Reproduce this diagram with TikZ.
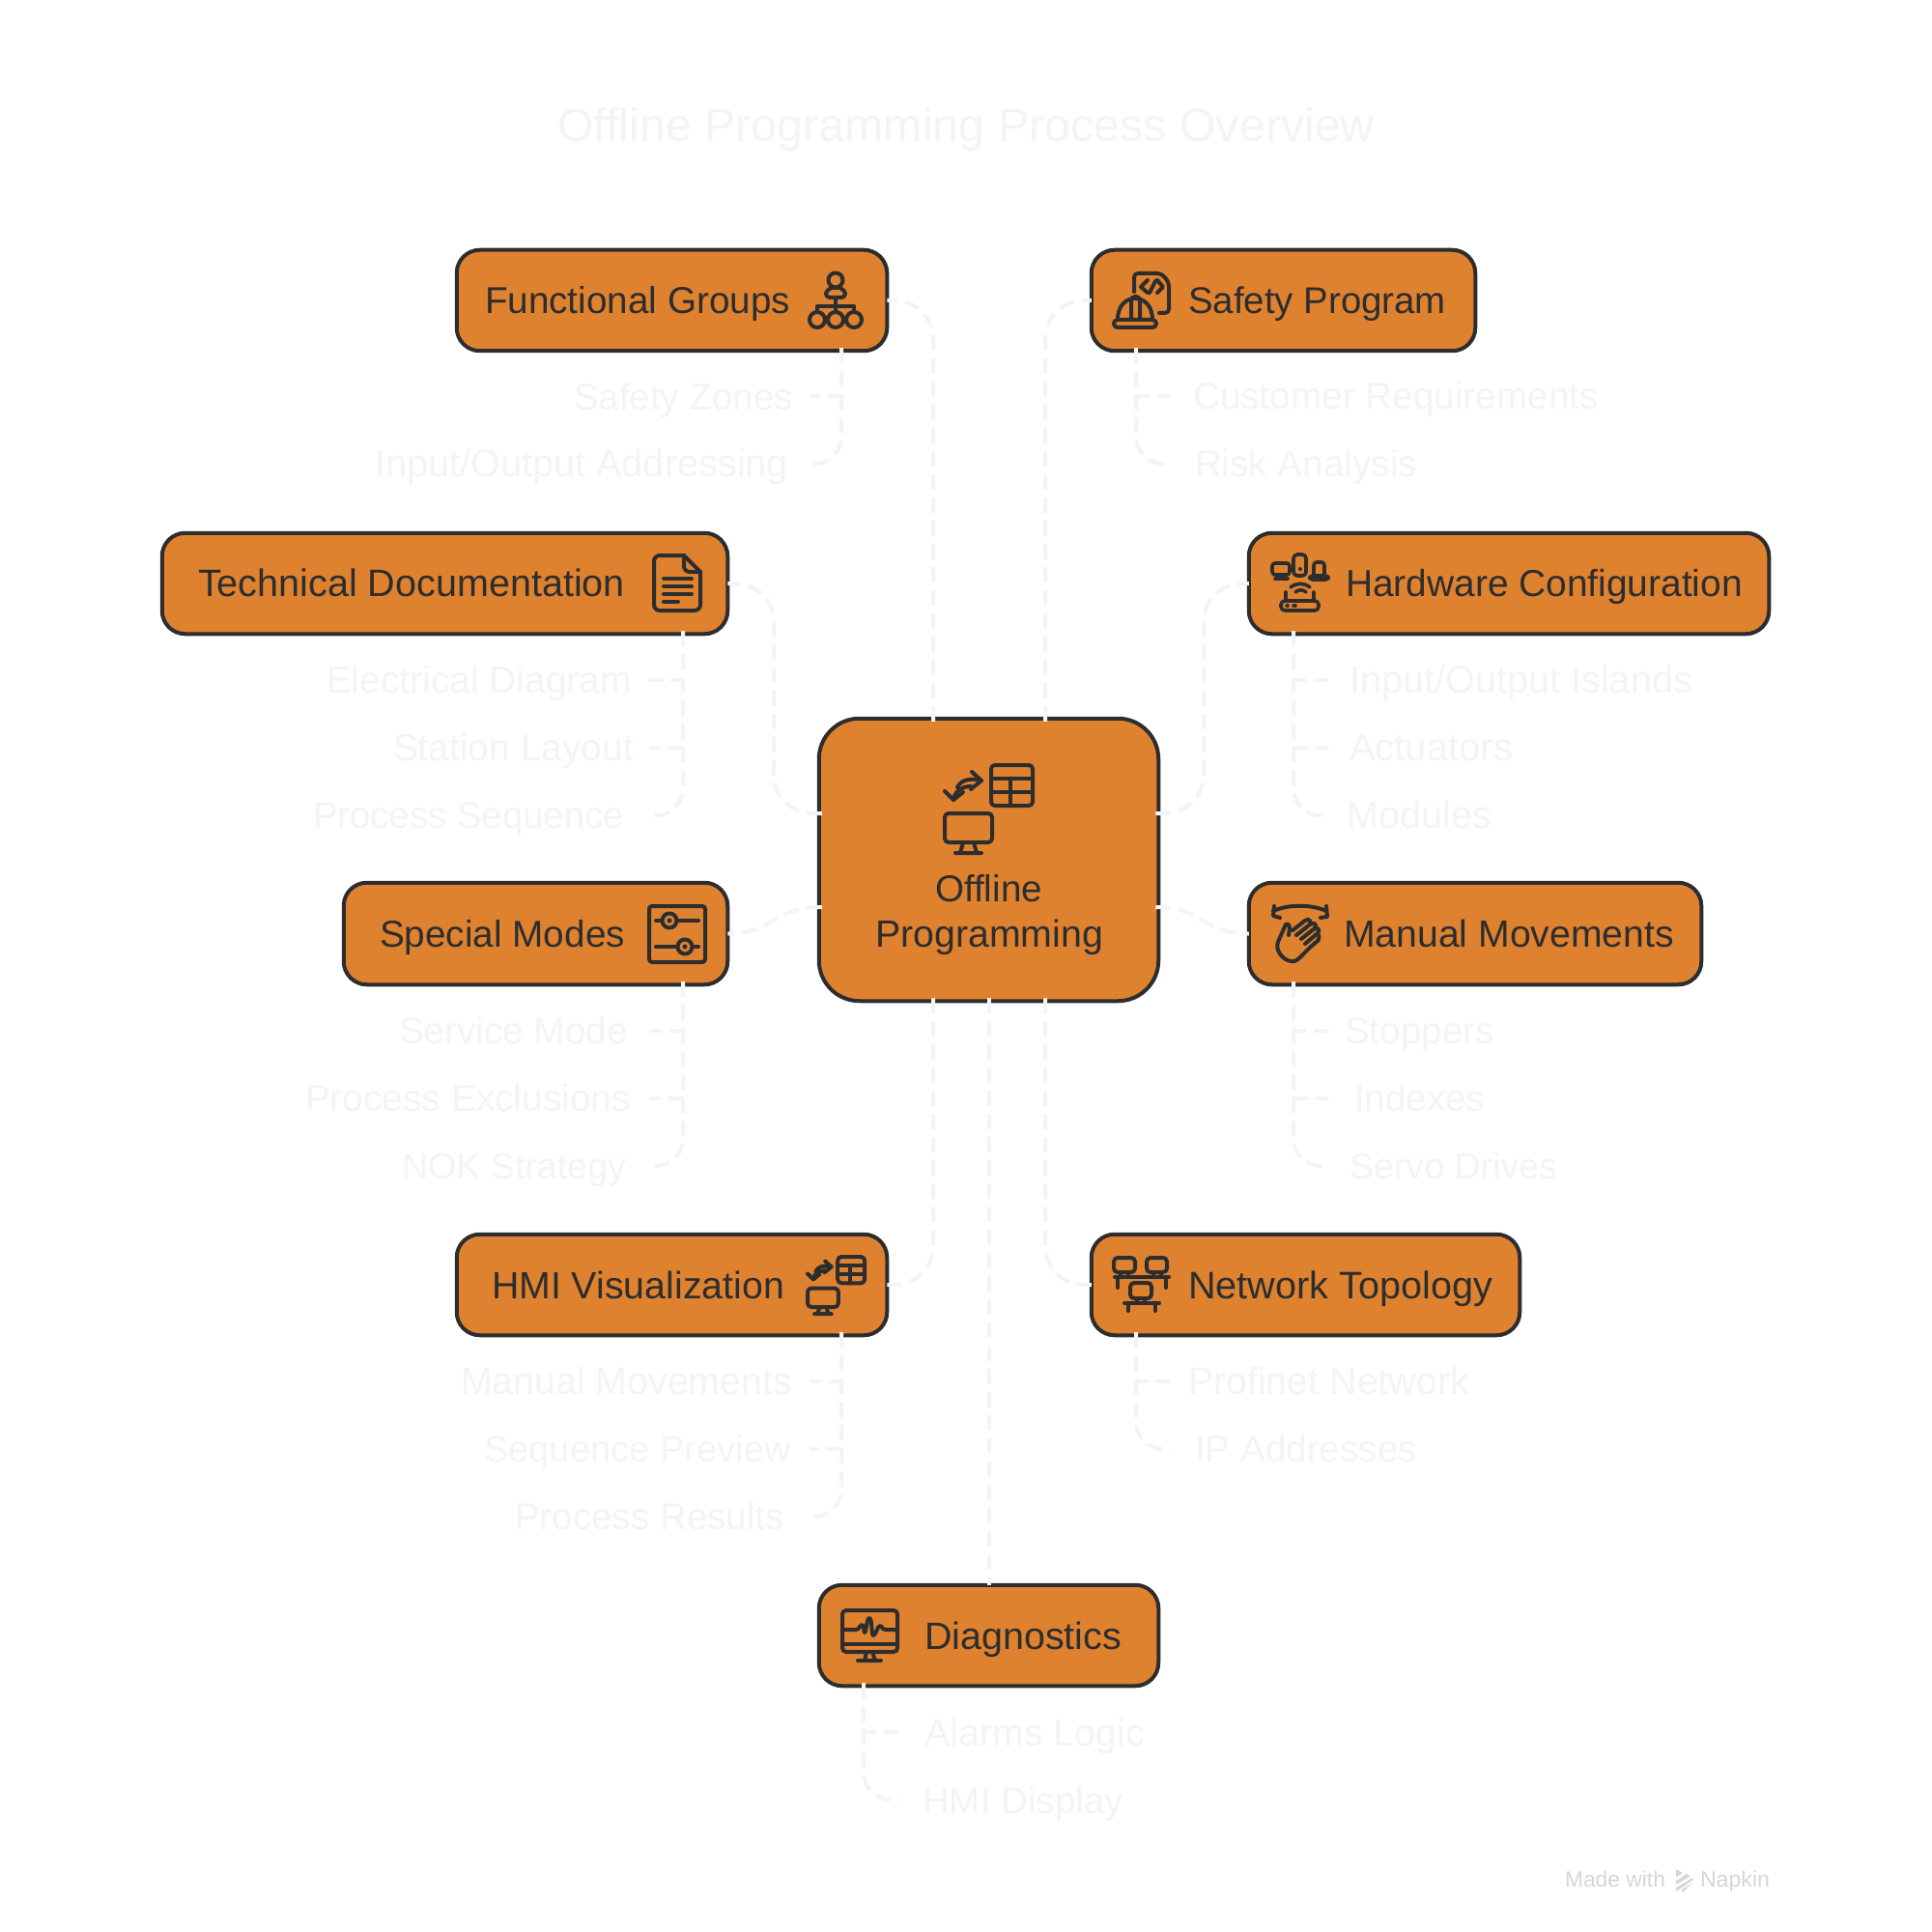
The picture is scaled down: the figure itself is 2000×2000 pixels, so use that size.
\documentclass[tikz,border=0pt]{standalone}
\usepackage{fontspec}
\setmainfont{Liberation Sans}
\definecolor{boxfill}{HTML}{DF8230}
\definecolor{inkc}{HTML}{2D2D2D}
\definecolor{faint}{HTML}{F3F4F6}
\definecolor{markc}{HTML}{D6D6D6}
\tikzset{
  boxnode/.style={draw=inkc,fill=boxfill,line width=2pt,rounded corners=12pt,outer sep=0pt,inner sep=0pt},
  centernode/.style={boxnode,rounded corners=21pt},
  dark/.style={text=inkc,inner sep=0pt,outer sep=0pt,anchor=base west,font=\fontsize{20}{24}\selectfont},
  pale/.style={dark,text=faint},
  conn/.style={draw=faint,line width=2pt,dash pattern=on 8pt off 4pt,shorten <=-1.5pt},
  icon/.style={draw=inkc,line width=2pt,line cap=round,line join=round},
  thin icon/.style={icon,line width=1.8pt},
  markt/.style={dark,text=markc}
}
\newcommand\myboxn[6][boxnode]{\node[#1,minimum width={(#5-#3-1.5)*0.5pt},minimum height={(#6-#4-1.5)*0.5pt}] (#2) at ({(#3+#5)/2},{(#4+#6)/2}) {};}
% name, style, x1, x2, baseline, text
\newcommand\mytxt[6]{\pgfmathsetmacro\mywdth{(#4-#3)/2}\node[#2] (#1) at (#3,#5) {\resizebox{\mywdth pt}{!}{#6}};}
\newcommand\swapicon[3]{%
\begin{scope}[shift={(#1,#2)},x=#3*0.5pt,y=-#3*0.5pt]
 \draw[icon,rounded corners=2pt] (48,0) rectangle (91,42);
 \draw[icon] (48,14) -- (91,14) (48,28) -- (91,28) (68,14) -- (68,42);
 \draw[icon] (13,23) .. controls (17,15) and (27,13) .. (38,16);
 \draw[icon] (28,7) -- (38,16) -- (27,25);
 \draw[icon] (27,22) .. controls (17,22) and (10,28) .. (9,36);
 \draw[icon] (0,27) -- (9,36) -- (19,28);
 \draw[icon,rounded corners=2pt] (0,50) rectangle (49,80);
 \draw[icon] (19,80) -- (16,91) (30,80) -- (33,91) (11,91) -- (38,91);
\end{scope}}
\begin{document}
\begin{tikzpicture}[x=0.5pt,y=-0.5pt]
\useasboundingbox (0,0) rectangle (2000,2000);
\fill[white] (0,0) rectangle (2000,2000);

% title
\mytxt{title}{pale,font=\fontsize{24}{28}\selectfont}{577}{1423}{147}{Offline Programming Process Overview}

% boxes
\myboxn{fg}{472}{258}{919}{364}
\myboxn{sp}{1129}{258}{1528}{364}
\myboxn{td}{167}{551}{754}{657}
\myboxn{hc}{1292}{551}{1832}{657}
\myboxn{sm}{355}{913}{754}{1020}
\myboxn{mm}{1292}{913}{1762}{1020}
\myboxn{hv}{472}{1277}{919}{1383}
\myboxn{nt}{1129}{1277}{1574}{1383}
\myboxn{dg}{847}{1640}{1200}{1746}
\myboxn[centernode]{op}{847}{743}{1200}{1037}

% box texts
\mytxt{fg-text}{dark}{502}{818}{325}{Functional Groups}
\mytxt{sp-text}{dark}{1230}{1497}{325}{Safety Program}
\mytxt{td-text}{dark}{205}{647}{617}{Technical Documentation}
\mytxt{hc-text}{dark}{1393}{1804}{617}{Hardware Configuration}
\mytxt{sm-text}{dark}{393}{647}{980}{Special Modes}
\mytxt{mm-text}{dark}{1391}{1733}{980}{Manual Movements}
\mytxt{hv-text}{dark}{509}{812}{1344}{HMI Visualization}
\mytxt{nt-text}{dark}{1230}{1545}{1344}{Network Topology}
\mytxt{dg-text}{dark}{957}{1161}{1707}{Diagnostics}
\mytxt{op-text1}{dark}{968}{1079}{933}{Offline}
\mytxt{op-text2}{dark}{906}{1142}{980}{Programming}

% child labels
\mytxt{l1}{pale}{594}{821}{425}{Safety Zones}
\mytxt{l2}{pale}{388}{816}{494}{Input/Output Addressing}
\mytxt{l3}{pale}{1235}{1655}{424}{Customer Requirements}
\mytxt{l4}{pale}{1237}{1467}{494}{Risk Analysis}
\mytxt{l5}{pale}{338}{654}{717}{Electrical Diagram}
\mytxt{l6}{pale}{407}{656}{787}{Station Layout}
\mytxt{l7}{pale}{324}{646}{857}{Process Sequence}
\mytxt{l8}{pale}{1397}{1752}{717}{Input/Output Islands}
\mytxt{l9}{pale}{1397}{1566}{787}{Actuators}
\mytxt{l10}{pale}{1394}{1544}{857}{Modules}
\mytxt{l11}{pale}{413}{650}{1080}{Service Mode}
\mytxt{l12}{pale}{316}{653}{1150}{Process Exclusions}
\mytxt{l13}{pale}{416}{648}{1220}{NOK Strategy}
\mytxt{l14}{pale}{1392}{1547}{1080}{Stoppers}
\mytxt{l15}{pale}{1402}{1537}{1150}{Indexes}
\mytxt{l16}{pale}{1397}{1612}{1220}{Servo Drives}
\mytxt{l17}{pale}{477}{820}{1443}{Manual Movements}
\mytxt{l18}{pale}{501}{819}{1513}{Sequence Preview}
\mytxt{l19}{pale}{533}{812}{1583}{Process Results}
\mytxt{l20}{pale}{1230}{1521}{1443}{Profinet Network}
\mytxt{l21}{pale}{1237}{1467}{1513}{IP Addresses}
\mytxt{l22}{pale}{957}{1185}{1807}{Alarms Logic}
\mytxt{l23}{pale}{955}{1163}{1877}{HMI Display}

% connector ends on the children
\coordinate (t1) at (838,410);
\coordinate (t2) at (836,480);
\coordinate (t3) at (1212,410);
\coordinate (t4) at (1212,480);
\coordinate (t5) at (672,704);
\coordinate (t6) at (672,774);
\coordinate (t7) at (672,844);
\coordinate (t8) at (1375,704);
\coordinate (t9) at (1375,774);
\coordinate (t10) at (1375,844);
\coordinate (t11) at (672,1067);
\coordinate (t12) at (672,1137);
\coordinate (t13) at (672,1207);
\coordinate (t14) at (1375,1067);
\coordinate (t15) at (1375,1137);
\coordinate (t16) at (1375,1207);
\coordinate (t17) at (838,1430);
\coordinate (t18) at (838,1500);
\coordinate (t19) at (836,1570);
\coordinate (t20) at (1212,1430);
\coordinate (t21) at (1212,1500);
\coordinate (t22) at (930,1793);
\coordinate (t23) at (930,1863);

% ports
\coordinate (fg-p) at (871,0 |- fg.south);
\coordinate (sp-p) at (1176,0 |- sp.south);
\coordinate (td-p) at (707,0 |- td.south);
\coordinate (hc-p) at (1339,0 |- hc.south);
\coordinate (sm-p) at (707,0 |- sm.south);
\coordinate (mm-p) at (1339,0 |- mm.south);
\coordinate (hv-p) at (871,0 |- hv.south);
\coordinate (nt-p) at (1176,0 |- nt.south);
\coordinate (dg-p) at (894,0 |- dg.south);
\coordinate (op-nl) at (966,0 |- op.north);
\coordinate (op-nr) at (1082,0 |- op.north);
\coordinate (op-sl) at (966,0 |- op.south);
\coordinate (op-sr) at (1082,0 |- op.south);
\coordinate (op-wu) at (op.west |- 0,842);
\coordinate (op-eu) at (op.east |- 0,842);
\coordinate (op-wd) at (op.west |- 0,939);
\coordinate (op-ed) at (op.east |- 0,939);

% centre to groups
\draw[conn,rounded corners=20pt] (op-nl) |- (fg.east);
\draw[conn,rounded corners=20pt] (op-nr) |- (sp.west);
\draw[conn,rounded corners=20pt] (op-sl) |- (hv.east);
\draw[conn,rounded corners=20pt] (op-sr) |- (nt.west);
\draw[conn] (op.south) -- (dg.north);
\draw[conn,rounded corners=20pt] (op-wu) -| (801,604) -- (td.east);
\draw[conn,rounded corners=20pt] (op-eu) -| (1246,604) -- (hc.west);
\draw[conn] (op-wd) .. controls (800,939) and (800,967) .. (sm.east);
\draw[conn] (op-ed) .. controls (1246,939) and (1246,967) .. (mm.west);

% groups to children
\draw[conn] (fg-p) |- (t1);
\draw[conn,rounded corners=14pt] (fg-p) |- (t2);
\draw[conn] (sp-p) |- (t3);
\draw[conn,rounded corners=14pt] (sp-p) |- (t4);
\draw[conn] (td-p) |- (t5);
\draw[conn] (td-p) |- (t6);
\draw[conn,rounded corners=14pt] (td-p) |- (t7);
\draw[conn] (hc-p) |- (t8);
\draw[conn] (hc-p) |- (t9);
\draw[conn,rounded corners=14pt] (hc-p) |- (t10);
\draw[conn] (sm-p) |- (t11);
\draw[conn] (sm-p) |- (t12);
\draw[conn,rounded corners=14pt] (sm-p) |- (t13);
\draw[conn] (mm-p) |- (t14);
\draw[conn] (mm-p) |- (t15);
\draw[conn,rounded corners=14pt] (mm-p) |- (t16);
\draw[conn] (hv-p) |- (t17);
\draw[conn] (hv-p) |- (t18);
\draw[conn,rounded corners=14pt] (hv-p) |- (t19);
\draw[conn] (nt-p) |- (t20);
\draw[conn,rounded corners=14pt] (nt-p) |- (t21);
\draw[conn] (dg-p) |- (t22);
\draw[conn,rounded corners=14pt] (dg-p) |- (t23);

% icon: centre and HMI
\swapicon{978}{792}{1}
\swapicon{836}{1301}{0.65}

% icon: functional groups
\draw[icon] (865,290) circle[radius=7.5];
\draw[icon,rounded corners=2pt] (855,308) .. controls (855,301) and (860,298) .. (865,298) .. controls (870,298) and (875,301) .. (875,308) -- cycle;
\draw[icon] (865,308) -- (865,323) (846,323) -- (846,317) -- (884,317) -- (884,323);
\draw[icon] (846,331) circle[radius=8] (865,331) circle[radius=8] (884,331) circle[radius=8];

% icon: safety program
\draw[icon,rounded corners=2pt] (1174,302) -- (1174,283) -- (1202,283) -- (1210,292) -- (1210,324) -- (1200,324);
\draw[icon] (1188,290) -- (1181,297) -- (1188,303) (1196,291) -- (1190,303) (1198,290) -- (1204,297) -- (1198,303);
\draw[icon,rounded corners=2pt] (1153,331) rectangle (1197,339);
\draw[icon] (1157,331) .. controls (1157,316) and (1166,309) .. (1175,309) .. controls (1184,309) and (1193,316) .. (1193,331);
\draw[icon,rounded corners=2pt] (1171,331) -- (1171,307) -- (1180,307) -- (1180,331);

% icon: technical documentation
\draw[icon,rounded corners=3pt] (708,575) -- (677,575) -- (677,632) -- (725,632) -- (725,592);
\draw[icon] (708,575) -- (725,592);
\draw[icon,rounded corners=3pt] (708,575) -- (708,592) -- (725,592);
\draw[icon] (687,599) -- (716,599) (687,607) -- (716,607) (687,615) -- (716,615) (687,623) -- (702,623);

% icon: hardware configuration
\draw[thin icon,rounded corners=1.5pt] (1317,583) rectangle (1335,595);
\draw[thin icon] (1326,595) -- (1326,599) (1320,599) -- (1333,599);
\draw[thin icon,rounded corners=2pt] (1339,574) rectangle (1352,596);
\fill[inkc] (1346,589) circle[radius=2];
\draw[thin icon,rounded corners=1.5pt] (1360,596) -- (1360,582) -- (1371,582) -- (1371,596);
\draw[thin icon,rounded corners=1.5pt] (1356,600) rectangle (1375,596);
\draw[thin icon] (1336,608) .. controls (1342,603) and (1350,603) .. (1356,608);
\draw[thin icon] (1341,613) .. controls (1344,610) and (1349,610) .. (1352,613);
\draw[thin icon,rounded corners=2pt] (1326,622) rectangle (1365,632);
\draw[thin icon] (1331,622) -- (1331,613) (1360,622) -- (1360,613);
\draw[thin icon] (1332,627) -- (1333,627) (1339,627) -- (1341,627);

% icon: special modes
\draw[icon,rounded corners=1.5pt] (672,938) rectangle (730,996);
\draw[icon] (679,953) -- (723,953) (679,980) -- (723,980);
\draw[icon,fill=boxfill] (693,953) circle[radius=7.5] (709,980) circle[radius=7.5];
\fill[inkc] (693,953) circle[radius=2.5] (709,980) circle[radius=2.5];

% icon: manual movements
\draw[icon] (1318,943) .. controls (1334,936) and (1357,936) .. (1373,943);
\draw[icon] (1319,938) -- (1318,948) -- (1325,950) (1373,938) -- (1374,949) -- (1367,950);
\draw[icon] (1334,968) -- (1335,961) .. controls (1335,956) and (1331,955) .. (1330,959) -- (1323,975) .. controls (1319,985) and (1331,997) .. (1340,995) .. controls (1346,993) and (1350,985) .. (1364,974);
\draw[icon] (1338,963) -- (1351,953) .. controls (1355,950) and (1358,954) .. (1356,957) -- (1342,968);
\draw[icon] (1356,957) .. controls (1360,954) and (1364,957) .. (1361,961) -- (1347,972);
\draw[icon] (1361,961) .. controls (1366,960) and (1366,964) .. (1364,966) -- (1351,977);
\draw[icon] (1364,966) .. controls (1366,968) and (1366,971) .. (1364,974);

% icon: network topology
\draw[icon,rounded corners=2pt] (1153,1302) rectangle (1175,1317);
\draw[icon,rounded corners=2pt] (1187,1302) rectangle (1208,1317);
\draw[icon,rounded corners=2pt] (1170,1328) rectangle (1192,1344);
\draw[icon] (1160,1317) -- (1160,1322) (1168,1317) -- (1168,1322) (1194,1317) -- (1194,1322) (1202,1317) -- (1202,1322);
\draw[icon] (1154,1322) -- (1210,1322) (1157,1322) -- (1157,1333) (1207,1322) -- (1207,1333);
\draw[icon] (1177,1344) -- (1177,1349) (1185,1344) -- (1185,1349);
\draw[icon] (1164,1349) -- (1200,1349) (1168,1349) -- (1168,1357) (1196,1349) -- (1196,1357);

% icon: diagnostics
\draw[icon,rounded corners=2pt] (872,1667) rectangle (929,1710);
\draw[icon] (872,1702) -- (929,1702);
\draw[icon] (897,1710) -- (895,1719) (903,1710) -- (906,1719) (888,1719) -- (912,1719);
\draw[icon] (872,1687) -- (886,1687) .. controls (890,1687) and (890,1682) .. (892,1682) .. controls (895,1682) and (894,1690) .. (895,1690) .. controls (897,1690) and (897,1675) .. (900,1675) .. controls (903,1675) and (902,1693) .. (904,1693) .. controls (907,1693) and (908,1683) .. (911,1683) .. controls (913,1683) and (913,1687) .. (917,1687) -- (929,1687);

% watermark
\mytxt{made}{markt}{1620}{1724}{1953}{Made with}
\mytxt{napkin}{markt}{1760}{1832}{1953}{Napkin}
\fill[markc] (1735,1935) -- (1742,1939) -- (1735,1943) -- cycle;
\fill[markc] (1735,1947) -- (1746,1940) -- (1750,1942) -- (1735,1951) -- cycle;
\fill[markc] (1735,1954) -- (1752,1944) -- (1753,1946) -- (1735,1958) -- cycle;
\fill[markc] (1741,1956) -- (1751,1950) -- (1742,1959) -- cycle;
\end{tikzpicture}
\end{document}
